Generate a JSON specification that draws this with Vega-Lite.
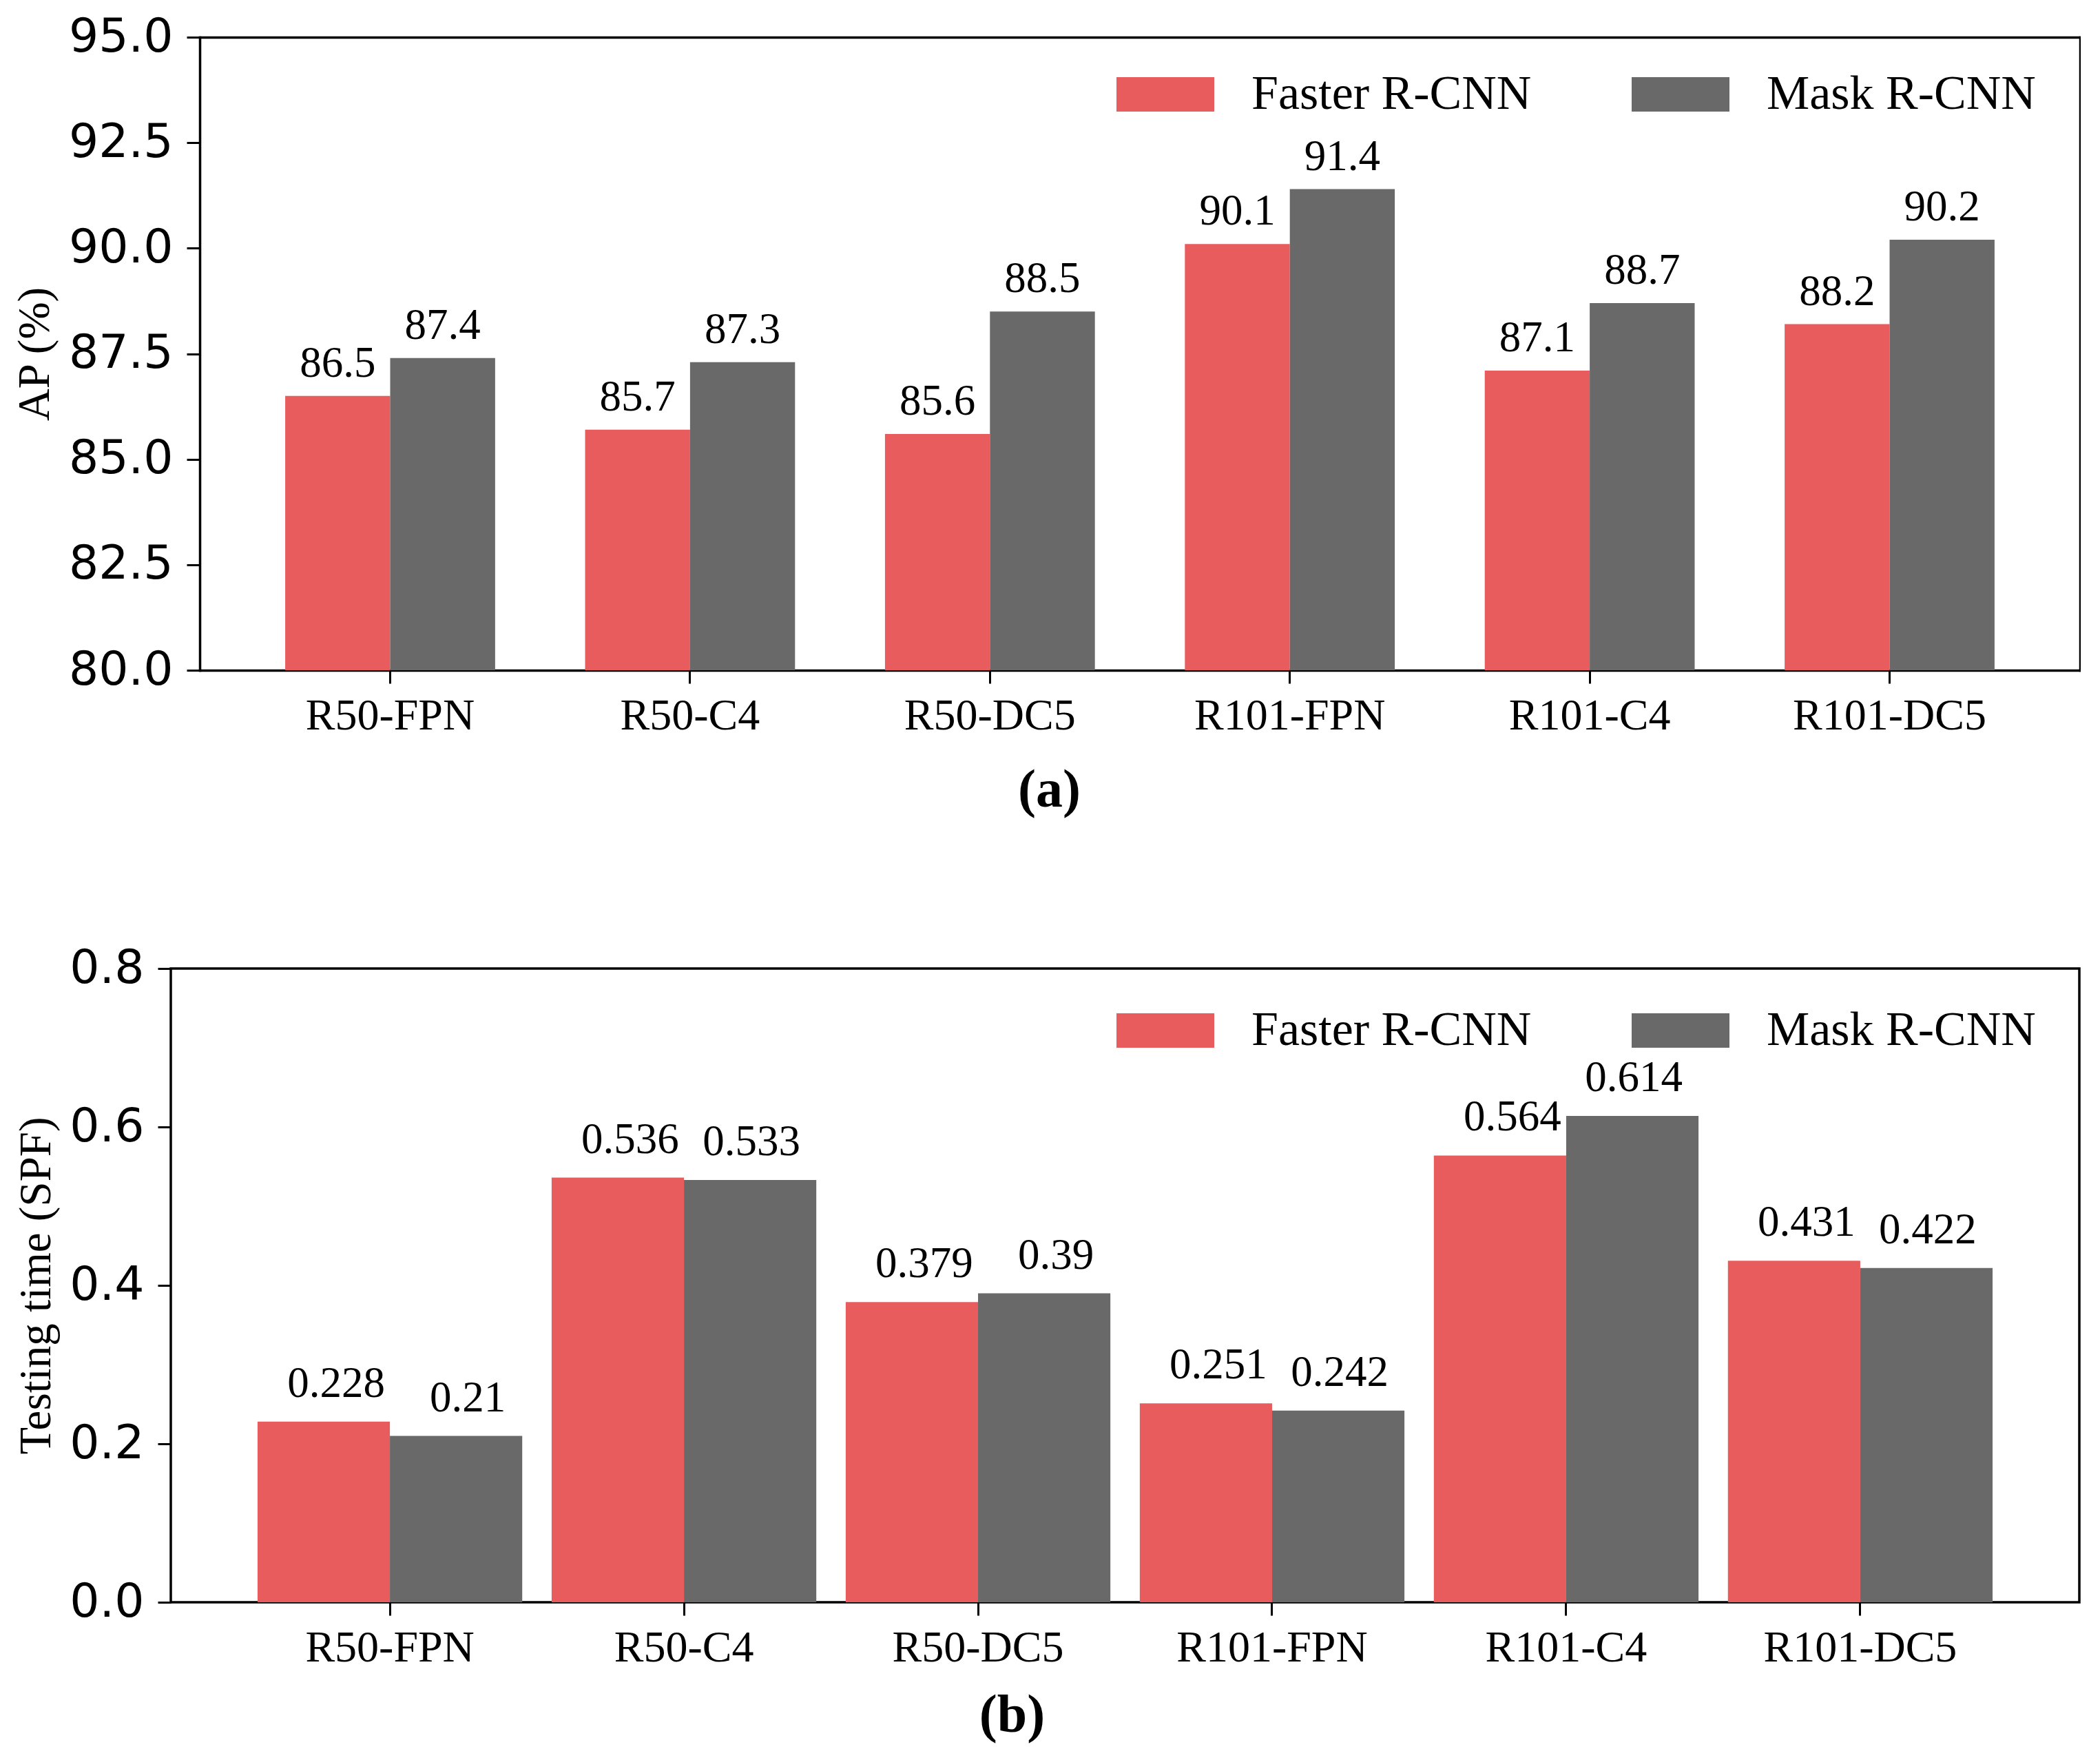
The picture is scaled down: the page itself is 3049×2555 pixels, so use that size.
{
  "$schema": "https://vega.github.io/schema/vega-lite/v6.json",
  "background": "white",
  "padding": {"left": 18, "top": 20, "right": 0, "bottom": 0},
  "config": {
    "view": {"stroke": "black", "strokeWidth": 3.5},
    "axis": {"domain": false, "grid": false, "tickColor": "black", "tickWidth": 3, "tickSize": 19, "labelColor": "black", "titleColor": "black", "labelLimit": 0, "domainColor": "black", "domainWidth": 3.5, "domainCap": "square"},
    "legend": {"title": null, "orient": "none", "direction": "horizontal", "symbolType": "M-1,-0.352H1V0.352H-1Z", "symbolSize": 20164, "symbolStrokeWidth": 0, "symbolOpacity": 1, "labelFont": "Liberation Serif", "labelFontSize": 70, "labelColor": "black", "labelOffset": 54, "columnPadding": 145, "labelLimit": 0}
  },
  "datasets": {
    "ap": [
      {"model": "R50-FPN", "series": "Faster R-CNN", "value": 86.5},
      {"model": "R50-FPN", "series": "Mask R-CNN", "value": 87.4},
      {"model": "R50-C4", "series": "Faster R-CNN", "value": 85.7},
      {"model": "R50-C4", "series": "Mask R-CNN", "value": 87.3},
      {"model": "R50-DC5", "series": "Faster R-CNN", "value": 85.6},
      {"model": "R50-DC5", "series": "Mask R-CNN", "value": 88.5},
      {"model": "R101-FPN", "series": "Faster R-CNN", "value": 90.1},
      {"model": "R101-FPN", "series": "Mask R-CNN", "value": 91.4},
      {"model": "R101-C4", "series": "Faster R-CNN", "value": 87.1},
      {"model": "R101-C4", "series": "Mask R-CNN", "value": 88.7},
      {"model": "R101-DC5", "series": "Faster R-CNN", "value": 88.2},
      {"model": "R101-DC5", "series": "Mask R-CNN", "value": 90.2}
    ],
    "time": [
      {"model": "R50-FPN", "series": "Faster R-CNN", "value": 0.228},
      {"model": "R50-FPN", "series": "Mask R-CNN", "value": 0.21},
      {"model": "R50-C4", "series": "Faster R-CNN", "value": 0.536},
      {"model": "R50-C4", "series": "Mask R-CNN", "value": 0.533},
      {"model": "R50-DC5", "series": "Faster R-CNN", "value": 0.379},
      {"model": "R50-DC5", "series": "Mask R-CNN", "value": 0.39},
      {"model": "R101-FPN", "series": "Faster R-CNN", "value": 0.251},
      {"model": "R101-FPN", "series": "Mask R-CNN", "value": 0.242},
      {"model": "R101-C4", "series": "Faster R-CNN", "value": 0.564},
      {"model": "R101-C4", "series": "Mask R-CNN", "value": 0.614},
      {"model": "R101-DC5", "series": "Faster R-CNN", "value": 0.431},
      {"model": "R101-DC5", "series": "Mask R-CNN", "value": 0.422}
    ]
  },
  "columns": 1,
  "spacing": 184,
  "resolve": {"scale": {"x": "independent", "y": "independent", "xOffset": "independent"}, "legend": {"color": "independent"}},
  "concat": [
    {
      "width": 2772,
      "height": 919,
      "view": {"stroke": null},
      "data": {"name": "ap"},
      "resolve": {"axis": {"x": "independent", "y": "independent"}},
      "layer": [
        {"mark": {"type": "bar"},
          "encoding": {
            "x": {"field": "model", "type": "nominal", "sort": null,
              "scale": {"paddingInner": 0.3, "paddingOuter": 0.285, "range": [42, 2772]},
              "axis": {"domain": true, "title": "(a)", "titleFont": "Liberation Serif", "titleFontWeight": "bold", "titleFontSize": 78, "titleX": 1275, "titleY": 197, "titleBaseline": "alphabetic", "titleAlign": "center",
                "labelFont": "Liberation Serif", "labelFontSize": 64, "labelPadding": 15, "labelAngle": 0}},
            "xOffset": {"field": "series", "type": "nominal", "scale": {"paddingInner": 0, "paddingOuter": 0}},
            "y": {"field": "value", "type": "quantitative",
              "scale": {"domain": [80, 95], "zero": false, "nice": false},
              "axis": {"domain": true, "offset": -42, "title": "AP (%)", "titleFont": "Liberation Serif", "titleFontSize": 65, "titleFontWeight": "normal", "titleX": -220, "titleY": 459.5, "titleBaseline": "alphabetic", "titleAngle": 270, "titleAlign": "center",
                "values": [80, 82.5, 85, 87.5, 90, 92.5, 95], "format": ".1f", "labelFont": "DejaVu Sans", "labelFontSize": 68, "labelPadding": 20}},
            "y2": {"datum": 80},
            "color": {"field": "series", "type": "nominal", "scale": {"domain": ["Faster R-CNN", "Mask R-CNN"], "range": ["#E85C5D", "#696969"]},
              "legend": {"legendX": 1373, "legendY": 12}}}},
        {"mark": {"type": "text", "dy": -28, "baseline": "alphabetic", "align": "center", "font": "Liberation Serif", "fontSize": 63, "color": "black"},
          "encoding": {
            "x": {"field": "model", "type": "nominal", "sort": null,
              "axis": {"orient": "top", "domain": true, "labels": false, "ticks": false, "title": null}},
            "xOffset": {"field": "series", "type": "nominal"},
            "y": {"field": "value", "type": "quantitative",
              "axis": {"orient": "right", "domain": true, "labels": false, "ticks": false, "title": null}},
            "text": {"field": "value", "type": "quantitative", "format": ".1f"}}}
      ]
    },
    {
      "width": 2771,
      "height": 920,
      "data": {"name": "time"},
      "encoding": {
        "x": {"field": "model", "type": "nominal", "sort": null,
          "scale": {"paddingInner": 0.1, "paddingOuter": 0.295},
          "axis": {"title": "(b)", "titleFont": "Liberation Serif", "titleFontWeight": "bold", "titleFontSize": 78, "titleX": 1221, "titleY": 187, "titleBaseline": "alphabetic", "titleAlign": "center",
            "labelFont": "Liberation Serif", "labelFontSize": 64, "labelPadding": 15, "labelAngle": 0}},
        "xOffset": {"field": "series", "type": "nominal", "scale": {"paddingInner": 0, "paddingOuter": 0}},
        "y": {"field": "value", "type": "quantitative",
          "scale": {"domain": [0, 0.8], "nice": false},
          "axis": {"title": "Testing time (SPF)", "titleFont": "Liberation Serif", "titleFontSize": 65, "titleFontWeight": "normal", "titleX": -176, "titleY": 460, "titleBaseline": "alphabetic", "titleAngle": 270, "titleAlign": "center",
            "values": [0, 0.2, 0.4, 0.6, 0.8], "format": ".1f", "labelFont": "DejaVu Sans", "labelFontSize": 68, "labelPadding": 20}}
      },
      "layer": [
        {"mark": {"type": "bar"},
          "encoding": {
            "color": {"field": "series", "type": "nominal", "scale": {"domain": ["Faster R-CNN", "Mask R-CNN"], "range": ["#E85C5D", "#696969"]},
              "legend": {"legendX": 1373, "legendY": 19}}}},
        {"transform": [{"filter": "datum.series == 'Faster R-CNN'"}],
          "mark": {"type": "text", "dy": -36, "dx": 18, "baseline": "alphabetic", "align": "center", "font": "Liberation Serif", "fontSize": 63, "color": "black"},
          "encoding": {"text": {"field": "value", "type": "quantitative"}}},
        {"transform": [{"filter": "datum.series == 'Mask R-CNN' && datum.value != 0.21 && datum.value != 0.39"}],
          "mark": {"type": "text", "dy": -36, "dx": 2, "baseline": "alphabetic", "align": "center", "font": "Liberation Serif", "fontSize": 63, "color": "black"},
          "encoding": {"text": {"field": "value", "type": "quantitative"}}},
        {"transform": [{"filter": "datum.series == 'Mask R-CNN' && (datum.value == 0.21 || datum.value == 0.39)"}],
          "mark": {"type": "text", "dy": -36, "dx": 17, "baseline": "alphabetic", "align": "center", "font": "Liberation Serif", "fontSize": 63, "color": "black"},
          "encoding": {"text": {"field": "value", "type": "quantitative"}}}
      ]
    }
  ]
}
